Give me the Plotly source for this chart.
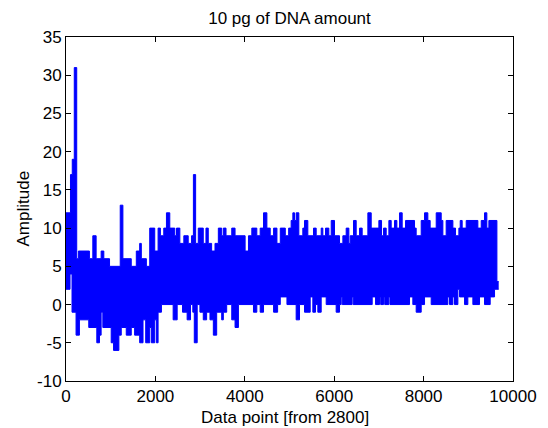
import plotly.graph_objects as go

# Envelope of the dense amplitude signal (step breakpoints, data-point index)
upper_x = [0, 100, 140, 185, 240, 277, 524, 600, 674, 786, 846, 974, 1213, 1273, 1460, 1573, 1648, 1685,
           1798, 1873, 1985, 2060, 2112, 2187, 2247, 2322, 2434, 2472, 2547, 2636, 2734, 2809, 2850, 2900,
           2959, 3071, 3131, 3183, 3258, 3333, 3408, 3483, 3520, 3580, 3708, 3782, 4007, 4082, 4157, 4269,
           4344, 4419, 4494, 4569, 4644, 4719, 4794, 4906, 4981, 5037, 5075, 5112, 5149, 5209, 5298, 5336,
           5410, 5537, 5597, 5709, 5746, 5806, 5880, 5933, 6007, 6119, 6194, 6268, 6328, 6358, 6432, 6492,
           6567, 6626, 6753, 6828, 6999, 7059, 7104, 7163, 7223, 7275, 7350, 7402, 7462, 7521, 7596, 7797,
           7834, 7946, 8021, 8095, 8147, 8282, 8394, 8431, 8505, 8655, 8714, 8789, 8819, 8863, 8953, 9214,
           9289, 9363, 9415, 9460, 9640, 9680]
upper_y = [12, 17, 19, 31, 6, 7, 6, 9, 6, 7, 6, 5, 13, 6, 5, 7, 8, 6,
           5, 10, 7, 10, 9, 10, 12, 10, 9, 10, 8, 9, 8, 9, 17, 8,
           10, 8, 10, 8, 7, 8, 10, 9, 10, 9, 10, 9, 7, 9, 10, 9,
           10, 12, 10, 9, 10, 8, 10, 9, 10, 11, 12, 11, 12, 9, 10, 11,
           9, 10, 9, 10, 9, 10, 9, 11, 9, 8, 9, 10, 8, 9, 11, 9,
           10, 9, 12, 10, 11, 9, 10, 9, 11, 10, 11, 10, 12, 10, 11, 10,
           9, 11, 12, 11, 10, 12, 11, 9, 11, 10, 9, 10, 11, 10, 11, 10,
           11, 12, 10, 11, 3, 3]

lower_x = [0, 90, 135, 225, 300, 509, 689, 749, 786, 824, 1011, 1064, 1183, 1236, 1348, 1460, 1535, 1648,
           1723, 1783, 1873, 1910, 1985, 2022, 2060, 2135, 2397, 2487, 2607, 2710, 2785, 2837, 2870, 2935,
           2996, 3071, 3146, 3221, 3296, 3371, 3483, 3520, 3595, 3708, 3782, 3857, 4194, 4269, 4344, 4419,
           4644, 4734, 4794, 4943, 5149, 5224, 5336, 5463, 5522, 5582, 5634, 5709, 5821, 6044, 6119, 6156,
           6180, 6400, 6425, 6850, 6925, 7014, 7040, 7104, 7130, 7223, 7248, 7685, 7759, 7834, 7946, 8021,
           8170, 8543, 8580, 8655, 8692, 8767, 8804, 8916, 8990, 9102, 9251, 9363, 9490, 9587, 9640, 9680]
lower_y = [2, 4, -1, -4, -2, -3, -5, -4, -1, -3, -5, -6, -4, -3, -4, -3, -4, -5,
           -2, -5, -3, -5, -2, -5, -1, 0, -2, 0, -1, -2, 0, -1, -5, 0,
           -1, -2, -1, -2, -4, -1, -2, -1, 0, -2, -3, 0, -1, 0, -1, 0,
           -1, 0, 1, 0, -2, 0, -1, 1, -1, 0, -1, 1, 0, -1, 0, 1,
           0, 1, 0, 1, 0, 1, 0, 1, 0, 1, 0, 1, 0, -1, 0, 1,
           0, 1, 0, 1, 0, 2, 1, 0, 1, 0, 1, 0, 1, 2, 2, 2]

title_text = "10 pg of DNA amount"
x_label = "Data point [from 2800]"
y_label = "Amplitude"
x_ticks = [0, 2000, 4000, 6000, 8000, 10000]
y_ticks = [-10, -5, 0, 5, 10, 15, 20, 25, 30, 35]

BLUE = "#0000FF"
FONT = "Liberation Sans, Arial, Helvetica, sans-serif"

fig = go.Figure()
fig.add_trace(go.Scatter(x=lower_x, y=lower_y, mode="lines", line=dict(color=BLUE, width=1, shape="hv"),
                         showlegend=False, hoverinfo="skip"))
fig.add_trace(go.Scatter(x=upper_x, y=upper_y, mode="lines", line=dict(color=BLUE, width=1, shape="hv"),
                         fill="tonexty", fillcolor=BLUE, showlegend=False, hoverinfo="skip"))

axis_common = dict(showgrid=False, zeroline=False, showline=True, linecolor="black", linewidth=1,
                   mirror="allticks", ticks="inside", ticklen=5, tickwidth=1, tickcolor="black",
                   tickfont=dict(family=FONT, size=17, color="black"))

fig.update_xaxes(range=[0, 10000], tickvals=x_ticks, ticktext=[str(v) for v in x_ticks], **axis_common)
fig.update_yaxes(range=[-10, 35], tickvals=y_ticks, ticktext=[str(v) for v in y_ticks], **axis_common)

fig.update_layout(
    width=548, height=428, autosize=False,
    margin=dict(l=66, r=35, t=37, b=47),
    paper_bgcolor="white", plot_bgcolor="white",
    font=dict(family=FONT, size=17, color="black"),
    title=dict(text=title_text, x=0.5, xref="paper", xanchor="center",
               y=1 - 18 / 428, yref="container", yanchor="middle",
               font=dict(family=FONT, size=17, color="black")),
    annotations=[
        dict(text=x_label, x=0.49, xref="paper", xanchor="center", y=-(417 - 381) / 344, yref="paper",
             yanchor="middle", showarrow=False, font=dict(family=FONT, size=17, color="black")),
        dict(text=y_label, x=-(66 - 22.5) / 447, xref="paper", xanchor="center", y=0.5, yref="paper",
             yanchor="middle", textangle=-90, showarrow=False, font=dict(family=FONT, size=17, color="black")),
    ],
)

fig.write_html("out.html")
